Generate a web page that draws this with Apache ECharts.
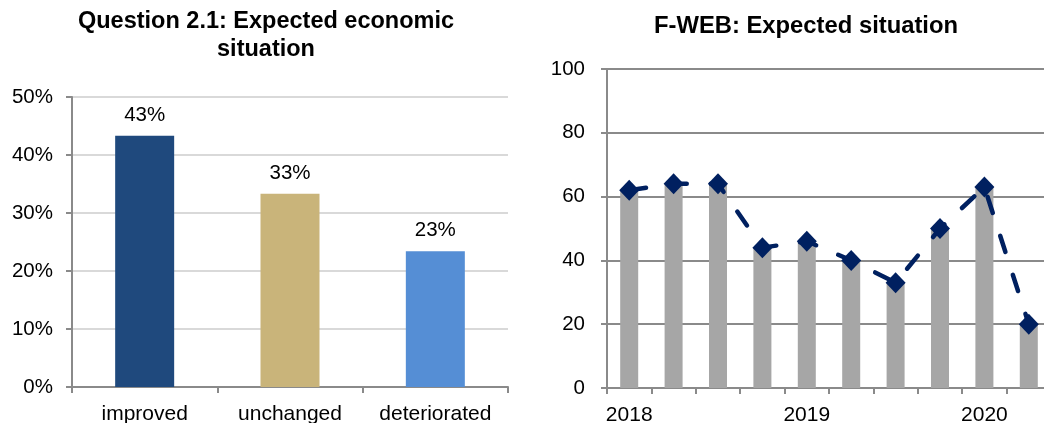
<!DOCTYPE html>
<html><head><meta charset="utf-8">
<script src="https://cdn.jsdelivr.net/npm/echarts@6/dist/echarts.min.js"></script>
<style>html,body{margin:0;padding:0;background:#fff}#c{width:1044px;height:423px}</style>
</head><body><div id="c"></div>
<script>
const leftTitle = 'Question 2.1: Expected economic\nsituation';
const leftCategories = ['improved', 'unchanged', 'deteriorated'];
const leftValues = [43.3, 33.3, 23.4];
const leftColors = ['#1f497d', '#c9b47a', '#558ed5'];

const rightTitle = 'F-WEB: Expected situation';
const rightCategories = ['2018 Q1','2018 Q2','2018 Q3','2018 Q4','2019 Q1','2019 Q2','2019 Q3','2019 Q4','2020 Q1','2020 Q2'];
const rightBarValues = [62, 64, 64, 44, 46, 40, 33, 50, 63, 20];
const rightLineValues = [62, 64, 64, 44, 46, 40, 33, 50, 63, 20];

const FONT = "'Liberation Sans', Arial, sans-serif";
const chart = echarts.init(document.getElementById('c'), null, {renderer: 'canvas'});

const axisGray = '#8a8a8a';
chart.setOption({
  animation: false,
  backgroundColor: '#ffffff',
  textStyle: {fontFamily: FONT},
  title: [
    {text: leftTitle, left: 266, top: 8, textAlign: 'center', padding: 0,
     textStyle: {fontFamily: FONT, fontWeight: 'bold', fontSize: 23.5, lineHeight: 28, color: '#000', align: 'center'}},
    {text: rightTitle, left: 806, top: 12, textAlign: 'center', padding: 0,
     textStyle: {fontFamily: FONT, fontWeight: 'bold', fontSize: 23.8, lineHeight: 28, color: '#000'}}
  ],
  grid: [
    {left: 72, top: 97, width: 436, height: 290, containLabel: false, outerBoundsMode: 'none'},
    {left: 607, top: 69, width: 444, height: 319, containLabel: false, outerBoundsMode: 'none'}
  ],
  xAxis: [
    {type: 'category', gridIndex: 0, data: leftCategories,
     axisLine: {lineStyle: {color: axisGray, width: 2}},
     axisTick: {show: true, length: 6, lineStyle: {color: axisGray, width: 2}},
     axisLabel: {color: '#000', fontSize: 21, margin: 17, interval: 0, fontFamily: FONT}},
    {type: 'category', gridIndex: 1, data: rightCategories,
     axisLine: {lineStyle: {color: axisGray, width: 2}},
     axisTick: {show: true, interval: 0, length: 6, lineStyle: {color: axisGray, width: 2}},
     axisLabel: {color: '#000', fontSize: 21, margin: 17, interval: 3, fontFamily: FONT,
                 formatter: v => v.slice(0, 4)}}
  ],
  yAxis: [
    {type: 'value', gridIndex: 0, min: 0, max: 50, interval: 10,
     axisLine: {show: true, lineStyle: {color: axisGray, width: 2}},
     axisTick: {show: true, length: 6, lineStyle: {color: axisGray, width: 2}},
     splitLine: {lineStyle: {color: '#d9d9d9', width: 2}},
     axisLabel: {color: '#000', fontSize: 20.5, margin: 19, fontFamily: FONT, formatter: v => v + '%'}},
    {type: 'value', gridIndex: 1, min: 0, max: 100, interval: 20,
     axisLine: {show: true, lineStyle: {color: axisGray, width: 2}},
     axisTick: {show: true, length: 6, lineStyle: {color: axisGray, width: 2}},
     splitLine: {lineStyle: {color: axisGray, width: 2}},
     axisLabel: {color: '#000', fontSize: 20.5, margin: 22, fontFamily: FONT}}
  ],
  series: [
    {type: 'bar', xAxisIndex: 0, yAxisIndex: 0, barWidth: 59,
     data: leftValues.map((v, i) => ({value: v, itemStyle: {color: leftColors[i]}})),
     label: {show: true, position: 'top', distance: 10, color: '#000', fontSize: 20.5, fontFamily: FONT,
             formatter: p => Math.round(p.value) + '%'}},
    {type: 'bar', xAxisIndex: 1, yAxisIndex: 1, barWidth: 18,
     data: rightBarValues, itemStyle: {color: '#a6a6a6'}},
    {type: 'line', xAxisIndex: 1, yAxisIndex: 1, data: rightLineValues, z: 5,
     symbol: 'diamond', symbolSize: [20, 21],
     itemStyle: {color: '#002060'},
     lineStyle: {color: '#002060', width: 4.5, type: [17, 24], cap: 'round'}}
  ]
});
</script>
</body></html>
